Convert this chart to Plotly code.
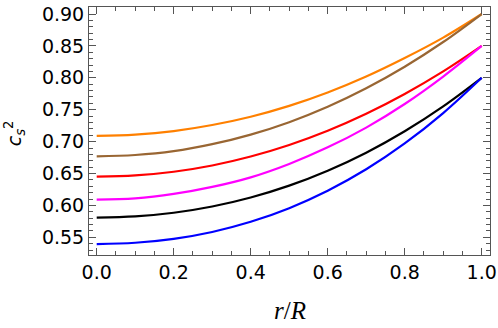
import plotly.graph_objects as go

x = [0.0, 0.1, 0.2, 0.3, 0.4, 0.5, 0.6, 0.7, 0.8, 0.9, 1.0]
orange = [0.709, 0.711, 0.7165, 0.726, 0.739, 0.756, 0.777, 0.802, 0.831, 0.863, 0.900]
brown = [0.677, 0.679, 0.685, 0.696, 0.711, 0.7305, 0.7547, 0.7836, 0.8174, 0.8561, 0.900]
red = [0.645, 0.647, 0.6528, 0.6626, 0.6766, 0.6947, 0.717, 0.7436, 0.7746, 0.810, 0.850]
magenta = [0.609, 0.611, 0.618, 0.629, 0.644, 0.665, 0.691, 0.722, 0.759, 0.802, 0.850]
black = [0.581, 0.5828, 0.5885, 0.5983, 0.6124, 0.631, 0.6544, 0.6827, 0.7163, 0.7553, 0.800]
blue = [0.5395, 0.5415, 0.5476, 0.5584, 0.5743, 0.5957, 0.623, 0.6566, 0.6971, 0.7447, 0.800]

x_ticks = [0, 0.2, 0.4, 0.6, 0.8, 1.0]
x_ticklabels = ["0.0", "0.2", "0.4", "0.6", "0.8", "1.0"]
y_ticks = [0.55, 0.60, 0.65, 0.70, 0.75, 0.80, 0.85, 0.90]
y_ticklabels = ["0.55", "0.60", "0.65", "0.70", "0.75", "0.80", "0.85", "0.90"]

series = [
    (orange, "rgb(255,128,0)"),
    (brown, "rgb(153,102,51)"),
    (red, "rgb(255,0,0)"),
    (magenta, "rgb(255,0,255)"),
    (black, "rgb(0,0,0)"),
    (blue, "rgb(0,0,255)"),
]

fig = go.Figure()
for ys, col in series:
    fig.add_trace(go.Scatter(x=x, y=ys, mode="lines", line=dict(color=col, width=2.2, shape="spline", smoothing=1.0),
                             showlegend=False, hoverinfo="skip"))

axis_common = dict(
    showgrid=False, zeroline=False, showline=True, linecolor="#555555", linewidth=1,
    mirror="allticks", ticks="inside", tickcolor="#555555", ticklen=7, tickwidth=1,
    tickfont=dict(family="DejaVu Sans", size=19, color="black"),
    automargin=False,
)

fig.update_xaxes(
    range=[-0.020, 1.0216], tickvals=x_ticks, ticktext=x_ticklabels,
    minor=dict(dtick=0.05, tick0=0, ticks="inside", ticklen=4, tickcolor="#555555", showgrid=False),
    **axis_common,
)
fig.update_yaxes(
    range=[0.5223, 0.911], tickvals=y_ticks, ticktext=y_ticklabels,
    minor=dict(dtick=0.01, tick0=0.5, ticks="inside", ticklen=4, tickcolor="#555555", showgrid=False),
    **axis_common,
)

fig.update_layout(
    width=498, height=328,
    margin=dict(l=89, r=8, t=7, b=73),
    plot_bgcolor="white", paper_bgcolor="white",
    annotations=[
        dict(text="<i>r</i>/<i>R</i>", xref="paper", yref="paper", x=0.5, y=-0.222,
             xanchor="center", yanchor="middle", showarrow=False,
             font=dict(family="Liberation Serif", size=25, color="black")),
        dict(text="<i>c</i><sub><i>s</i></sub><sup>2</sup>", xref="paper", yref="paper",
             x=-0.185, y=0.49, xanchor="center", yanchor="middle", showarrow=False, textangle=-90,
             font=dict(family="DejaVu Sans", size=19, color="black")),
    ],
)

fig.write_html("out.html", config={"displayModeBar": False},
               post_script="document.body.style.margin='0px';document.body.style.overflow='hidden';")
